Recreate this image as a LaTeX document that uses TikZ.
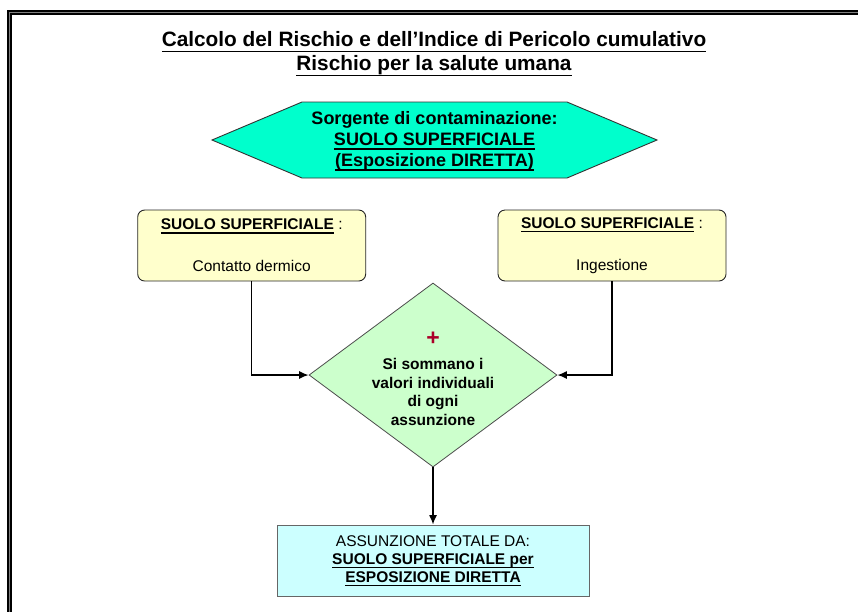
\documentclass[tikz,border=0pt]{standalone}
\usepackage{fontspec}
\setmainfont{Liberation Sans}
\usetikzlibrary{arrows.meta,shapes.geometric}

\definecolor{sourcecyan}{RGB}{0,255,204}
\definecolor{pathyellow}{RGB}{255,255,204}
\definecolor{sumgreen}{RGB}{204,255,204}
\definecolor{totalcyan}{RGB}{204,255,255}
\definecolor{plusred}{RGB}{170,0,40}

\newsavebox{\ulbox}
\newcommand{\ulx}[1]{\sbox{\ulbox}{#1}\rlap{\vrule height -.17em depth .245em width \wd\ulbox}\usebox{\ulbox}}

\begin{document}
\begin{tikzpicture}[x=1pt,y=-1pt,>={Latex[length=9.5pt,width=8pt]},
    link/.style={->,line width=1.3pt},
    pathbox/.style={draw=black!85,fill=pathyellow,rounded corners=7pt,line width=0.9pt,
        minimum width=228pt,minimum height=71pt,inner sep=0pt,align=center,
        font=\fontsize{15.5}{18}\selectfont},
    totalbox/.style={draw=black!60,fill=totalcyan,line width=0.9pt,
        minimum width=312pt,minimum height=71pt,inner sep=0pt,align=center,
        font=\fontsize{15.5}{18}\selectfont},
    sumdiamond/.style={diamond,draw=black!70,fill=sumgreen,line width=0.8pt,
        minimum width=248pt,minimum height=184pt,inner sep=0pt}]
    \useasboundingbox (0,0) rectangle (858,611);

    % frame
    \draw[double=gray,double distance=1pt,line width=2pt] (9.2,615) -- (9.2,12.5) -- (862,12.5);

    \node[align=center,font=\bfseries\fontsize{20.8}{24}\selectfont] (title) at (434,54)
        {\ulx{Calcolo del Rischio e dell’Indice di Pericolo cumulativo}\\\ulx{Rischio per la salute umana}};

    % source
    \draw[fill=sourcecyan,draw=black!80,line width=0.9pt] (212,140) -- (302,102) -- (567,102)
        -- (657,140) -- (567,178) -- (302,178) -- cycle;
    \node[align=center,font=\bfseries\fontsize{18}{21}\selectfont] (source) at (434.5,141)
        {Sorgente di contaminazione:\\\ulx{SUOLO SUPERFICIALE}\\\ulx{(Esposizione DIRETTA)}};

    \node[pathbox] (dermal) at (251.7,245.5) {\textbf{\ulx{SUOLO SUPERFICIALE}} :\\[24pt]Contatto dermico};
    \node[pathbox] (ingest) at (612,245.5) {\textbf{\ulx{SUOLO SUPERFICIALE}} :\\[24pt]Ingestione};

    \node[sumdiamond] (sum) at (433,375) {};
    \node[text=plusred,font=\bfseries\fontsize{23}{23}\selectfont] (plus) at (433,339) {+};
    \node[align=center,font=\bfseries\fontsize{15.5}{18.7}\selectfont] (sumtext) at (433,392)
        {Si sommano i\\valori individuali\\di ogni\\assunzione};

    \node[totalbox] (total) at (433,560.5)
        {ASSUNZIONE TOTALE DA:\\\textbf{\ulx{SUOLO SUPERFICIALE per}}\\\textbf{\ulx{ESPOSIZIONE DIRETTA}}};

    \draw[link] (dermal.south) |- (sum.west);
    \draw[link] (ingest.south) |- (sum.east);
    \draw[link] (sum.south) -- (total.north);
\end{tikzpicture}
\end{document}
